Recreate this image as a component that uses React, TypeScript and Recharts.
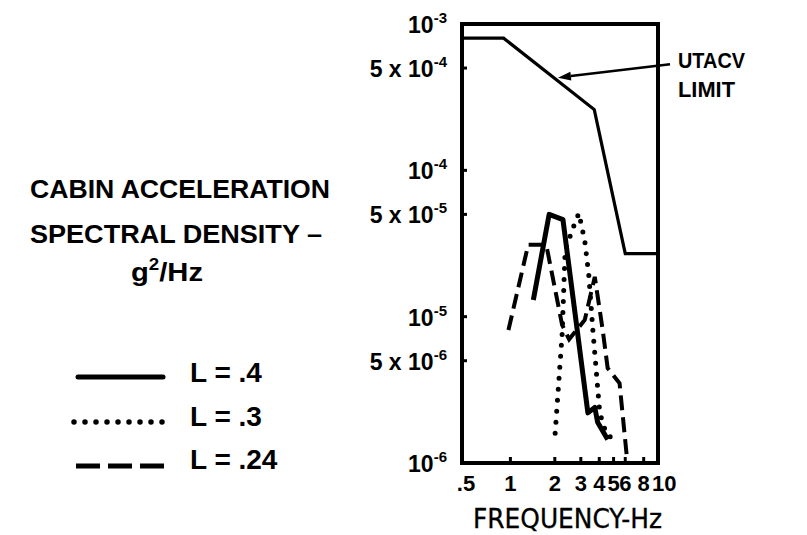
import React from 'react';
import { LineChart, Line, XAxis, YAxis, ReferenceArea, ReferenceLine } from 'recharts';

// axis ticks
const xTicks = [0.5, 1, 2, 3, 4, 5, 6, 8, 10];
const xTickLabels = ['.5', '1', '2', '3', '4', '5', '6', '8', '10'];
const yTicks = [1e-3, 5e-4, 1e-4, 5e-5, 1e-5, 5e-6, 1e-6];
const yTickMant = ['', '5 x ', '', '5 x ', '', '5 x ', ''];
const yTickExp = ['-3', '-4', '-4', '-5', '-5', '-6', '-6'];

// UTACV limit curve
const limitFreq = [0.47, 0.9, 3.7, 6.0, 10];
const limitPsd = [8e-4, 8e-4, 2.6e-4, 2.7e-5, 2.7e-5];

// L = .4 (solid)
const l40Freq = [1.43, 1.83, 2.27, 3.35, 3.73, 3.9, 4.56];
const l40Psd = [1.3e-5, 5.0e-5, 4.6e-5, 2.2e-6, 2.4e-6, 1.9e-6, 1.45e-6];

// L = .3 (dotted)
const l30Freq = [2.01, 2.24, 2.35, 2.74, 2.91, 3.19, 3.4, 3.62, 4.03, 4.49, 5.32];
const l30Psd = [1.6e-6, 7.5e-6, 2.85e-5, 4.4e-5, 5.1e-5, 3.3e-5, 1.9e-5, 8.1e-6, 2.2e-6, 1.55e-6, 1.43e-6];

// L = .24 (dashed)
const l24Freq = [0.97, 1.32, 1.75, 2.24, 2.5, 3.19, 3.73, 4.22, 4.56, 5.49, 6.21];
const l24Psd = [8.1e-6, 3.1e-5, 3.1e-5, 8.8e-6, 7e-6, 9.5e-6, 1.87e-5, 8.1e-6, 4.45e-6, 3.5e-6, 1e-6];

const toPoints = (fs: number[], vs: number[]) => fs.map((f, i) => ({ f, v: vs[i] }));

const FONT = "'Liberation Sans', Arial, Helvetica, sans-serif";

const XTick = (props: any) => {
  const { x, y, payload } = props;
  const i = xTicks.indexOf(payload.value);
  const inner = i > 0 && i < xTicks.length - 1;
  const last = i === xTicks.length - 1;
  return (
    <g>
      {inner && <line x1={x} x2={x} y1={y} y2={y - 6} stroke="#000" strokeWidth={3} />}
      <text
        x={last ? x - 6 : x}
        y={y + 28}
        textAnchor={last ? 'start' : 'middle'}
        fontSize={22}
        fontWeight="bold"
        fontFamily={FONT}
        fill="#000"
      >
        {xTickLabels[i]}
      </text>
    </g>
  );
};

const YTick = (props: any) => {
  const { x, y, payload } = props;
  const i = yTicks.indexOf(payload.value);
  const inner = i > 0 && i < yTicks.length - 1;
  return (
    <g>
      {inner && <line x1={x} x2={x + 5} y1={y} y2={y} stroke="#000" strokeWidth={3} />}
      <text x={x - 15} y={y + 9} textAnchor="end" fontSize={23} fontWeight="bold" fontFamily={FONT} fill="#000">
        {yTickMant[i]}10
        <tspan dy={-10} fontSize={15}>{yTickExp[i]}</tspan>
      </text>
    </g>
  );
};

const Arrow = (props: any) => {
  const { x1, y1, x2, y2 } = props;
  const ang = Math.atan2(y2 - y1, x2 - x1);
  const len = 13;
  const w = 4.5;
  const bx = x2 - len * Math.cos(ang);
  const by = y2 - len * Math.sin(ang);
  const px = -Math.sin(ang) * w;
  const py = Math.cos(ang) * w;
  return (
    <g>
      <line x1={x1} y1={y1} x2={bx} y2={by} stroke="#000" strokeWidth={2.5} />
      <polygon points={`${x2},${y2} ${bx + px},${by + py} ${bx - px},${by - py}`} fill="#000" />
    </g>
  );
};

export default function App() {
  return (
    <div style={{ position: 'absolute', left: 0, top: 0, width: 807, height: 535, background: '#fff' }}>
      <LineChart width={807} height={535} margin={{ top: 24, right: 149, left: 362, bottom: 12 }}>
        <XAxis
          type="number"
          dataKey="f"
          scale="log"
          domain={[0.47, 10]}
          allowDataOverflow
          ticks={xTicks}
          interval={0}
          height={60}
          axisLine={false}
          tickLine={false}
          tickSize={0}
          tickMargin={0}
          tick={<XTick />}
        />
        <YAxis
          type="number"
          dataKey="v"
          scale="log"
          domain={[1e-6, 1e-3]}
          allowDataOverflow
          ticks={yTicks}
          interval={0}
          width={100}
          axisLine={false}
          tickLine={false}
          tickSize={0}
          tickMargin={0}
          tick={<YTick />}
        />
        <Line
          data={toPoints(limitFreq, limitPsd)}
          dataKey="v"
          type="linear"
          stroke="#000"
          strokeWidth={3.2}
          dot={false}
          isAnimationActive={false}
        />
        <Line
          data={toPoints(l40Freq, l40Psd)}
          dataKey="v"
          type="linear"
          stroke="#000"
          strokeWidth={5}
          strokeLinejoin="round"
          dot={false}
          isAnimationActive={false}
        />
        <Line
          data={toPoints(l30Freq, l30Psd)}
          dataKey="v"
          type="linear"
          stroke="#000"
          strokeWidth={5}
          strokeDasharray="0 11"
          strokeLinecap="round"
          dot={false}
          isAnimationActive={false}
        />
        <Line
          data={toPoints(l24Freq, l24Psd)}
          dataKey="v"
          type="linear"
          stroke="#000"
          strokeWidth={4}
          strokeDasharray="15 7"
          dot={false}
          isAnimationActive={false}
        />
        <ReferenceArea x1={0.47} x2={10} y1={1e-6} y2={1e-3} fill="none" stroke="#000" strokeWidth={4} />
        <ReferenceLine
          segment={[{ x: 12.07, y: 5.3e-4 }, { x: 2.1, y: 4.3e-4 }]}
          ifOverflow="visible"
          shape={<Arrow />}
        />
      </LineChart>
      <svg
        width={807}
        height={535}
        style={{ position: 'absolute', left: 0, top: 0, pointerEvents: 'none' }}
        fontFamily={FONT}
        fontWeight="bold"
        fill="#000"
      >
        <text x={30} y={198} fontSize={25} textLength={300} lengthAdjust="spacingAndGlyphs">CABIN ACCELERATION</text>
        <text x={30} y={243} fontSize={25} textLength={292} lengthAdjust="spacingAndGlyphs">SPECTRAL DENSITY –</text>
        <text x={131} y={281} fontSize={25} textLength={72} lengthAdjust="spacingAndGlyphs">
          g<tspan dy={-11} fontSize={16}>2</tspan><tspan dy={11}>/Hz</tspan>
        </text>

        <text x={678} y={68} fontSize={22} textLength={67} lengthAdjust="spacingAndGlyphs">UTACV</text>
        <text x={678} y={97} fontSize={22} textLength={57} lengthAdjust="spacingAndGlyphs">LIMIT</text>

        <line x1={78} x2={163} y1={377} y2={377} stroke="#000" strokeWidth={5} strokeLinecap="round" />
        <text x={190} y={382} fontSize={28}>L = .4</text>
        <line x1={74} x2={163} y1={422} y2={422} stroke="#000" strokeWidth={5.5} strokeLinecap="round" strokeDasharray="0 11" />
        <text x={190} y={426} fontSize={28}>L = .3</text>
        <line x1={76} x2={164} y1={466} y2={466} stroke="#000" strokeWidth={5} strokeDasharray="24 8" />
        <text x={190} y={469} fontSize={28}>L = .24</text>

        <text
          x={473}
          y={528}
          fontSize={26}
          fontWeight="normal"
          fontFamily="'DejaVu Sans Condensed', 'Liberation Sans Narrow', 'DejaVu Sans', sans-serif"
          stroke="#000"
          strokeWidth={0.3}
          textLength={189}
          lengthAdjust="spacingAndGlyphs"
        >
          FREQUENCY-Hz
        </text>
      </svg>
    </div>
  );
}
